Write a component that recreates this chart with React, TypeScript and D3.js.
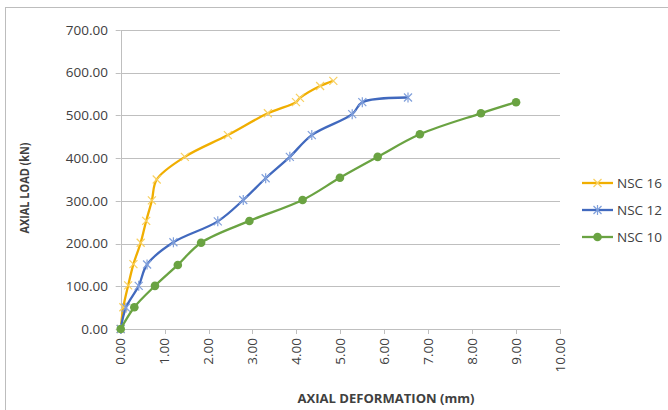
import React from "react";
import * as d3 from "d3";

const xTicks = [0, 1, 2, 3, 4, 5, 6, 7, 8, 9, 10];
const yTicks = [0, 100, 200, 300, 400, 500, 600, 700];

const nsc16X = [0, 0.06, 0.17, 0.29, 0.455, 0.58, 0.71, 0.82, 1.46, 2.44, 3.35, 3.99, 4.08, 4.54, 4.84];
const nsc16Y = [0, 51, 102, 152, 202, 253, 301, 350, 403, 454, 505, 531, 541, 569, 581];

const nsc12X = [0, 0.12, 0.41, 0.6, 1.2, 2.21, 2.79, 3.3, 3.85, 4.35, 5.27, 5.5, 6.54];
const nsc12Y = [0, 50, 101, 151, 203, 252, 302, 353, 403, 454, 503, 531, 542];

const nsc10X = [0, 0.31, 0.78, 1.3, 1.83, 2.93, 4.14, 4.99, 5.85, 6.81, 8.2, 9.0];
const nsc10Y = [0, 51, 101, 150, 202, 253, 302, 354, 403, 456, 505, 531];

const seriesNames = ["NSC 16", "NSC 12", "NSC 10"];

const W = 668;
const H = 410;
const FONT = "'Open Sans', 'Liberation Sans', sans-serif";

export default function App() {
  const x = d3.scaleLinear().domain([0, 10]).range([120.7, 560]);
  const y = d3.scaleLinear().domain([0, 700]).range([329, 30]);

  const series = [
    { name: seriesNames[0], xs: nsc16X, ys: nsc16Y, color: "#F0AE00", marker: "x", mcolor: "#F8D060" },
    { name: seriesNames[1], xs: nsc12X, ys: nsc12Y, color: "#4169BE", marker: "star", mcolor: "#7F9FDB" },
    { name: seriesNames[2], xs: nsc10X, ys: nsc10Y, color: "#6AA342", marker: "dot", mcolor: "#6AA342" },
  ];

  const line = d3
    .line<[number, number]>()
    .x((d) => x(d[0]))
    .y((d) => y(d[1]))
    .curve(d3.curveCatmullRom.alpha(0.5));

  const marker = (type: string, cx: number, cy: number, color: string, key: string | number) => {
    const s = 4;
    if (type === "x") {
      return (
        <g key={key} stroke={color} strokeWidth={1.2}>
          <line x1={cx - s} y1={cy - s} x2={cx + s} y2={cy + s} />
          <line x1={cx - s} y1={cy + s} x2={cx + s} y2={cy - s} />
        </g>
      );
    }
    if (type === "star") {
      return (
        <g key={key} stroke={color} strokeWidth={1.2}>
          <line x1={cx - s} y1={cy - s} x2={cx + s} y2={cy + s} />
          <line x1={cx - s} y1={cy + s} x2={cx + s} y2={cy - s} />
          <line x1={cx} y1={cy - s - 1} x2={cx} y2={cy + s + 1} />
        </g>
      );
    }
    return <circle key={key} cx={cx} cy={cy} r={4.3} fill={color} />;
  };

  return (
    <svg width={W} height={H} style={{ position: "absolute", left: 0, top: 0 }}>
      <rect x={0} y={0} width={W} height={H} fill="#fff" />
      <rect x={5.5} y={7.5} width={W} height={H} fill="none" stroke="#BDBDBD" strokeWidth={1} />
      {/* gridlines */}
      {yTicks.map((t) => (
        <line key={"g" + t} x1={x(0)} x2={x(10)} y1={Math.round(y(t)) + 0.5} y2={Math.round(y(t)) + 0.5} stroke="#BFBFBF" strokeWidth={1} />
      ))}
      {/* y axis */}
      <line x1={Math.round(x(0)) + 0.5} x2={Math.round(x(0)) + 0.5} y1={y(700)} y2={y(0)} stroke="#BFBFBF" />
      {yTicks.map((t) => (
        <g key={"yt" + t}>
          <line x1={x(0) - 5} x2={x(0)} y1={Math.round(y(t)) + 0.5} y2={Math.round(y(t)) + 0.5} stroke="#BFBFBF" />
          <text x={108} y={y(t)} dy="0.35em" textAnchor="end" fontFamily={FONT} fontSize={13.5} fill="#404040">
            {d3.format(".2f")(t)}
          </text>
        </g>
      ))}
      {/* x ticks */}
      {xTicks.map((t) => (
        <g key={"xt" + t}>
          <line x1={Math.round(x(t)) + 0.5} x2={Math.round(x(t)) + 0.5} y1={y(0)} y2={y(0) + 5} stroke="#BFBFBF" />
          <text
            transform={`translate(${x(t)},338) rotate(-90)`}
            dy="0.35em"
            textAnchor="end"
            fontFamily={FONT}
            fontSize={13.5}
            fill="#404040"
          >
            {d3.format(".2f")(t)}
          </text>
        </g>
      ))}
      {/* axis titles */}
      <text transform="translate(25,188) rotate(-90)" dy="0.35em" textAnchor="middle" fontFamily={FONT} fontWeight="bold" fontSize={12.5} fill="#404040" textLength={91} lengthAdjust="spacingAndGlyphs">
        AXIAL LOAD (kN)
      </text>
      <text x={386} y={398} dy="0.35em" textAnchor="middle" fontFamily={FONT} fontWeight="bold" fontSize={13} fill="#404040" textLength={177} lengthAdjust="spacingAndGlyphs">
        AXIAL DEFORMATION (mm)
      </text>
      {/* series */}
      {series.map((s) => {
        const pts = s.xs.map((v, i) => [v, s.ys[i]] as [number, number]);
        return (
          <g key={s.name}>
            <path d={line(pts) || ""} fill="none" stroke={s.color} strokeWidth={2.3} strokeLinejoin="round" />
            {pts.map((p, i) => marker(s.marker, x(p[0]), y(p[1]), s.mcolor, i))}
          </g>
        );
      })}
      {/* legend */}
      {series.map((s, i) => {
        const ly = 183 + i * 27;
        return (
          <g key={"lg" + s.name}>
            <line x1={582} x2={613} y1={ly} y2={ly} stroke={s.color} strokeWidth={2.3} />
            {marker(s.marker, 597.5, ly, s.mcolor, "m")}
            <text x={617} y={ly} dy="0.35em" fontFamily={FONT} fontSize={13.5} fill="#404040">
              {s.name}
            </text>
          </g>
        );
      })}
    </svg>
  );
}
